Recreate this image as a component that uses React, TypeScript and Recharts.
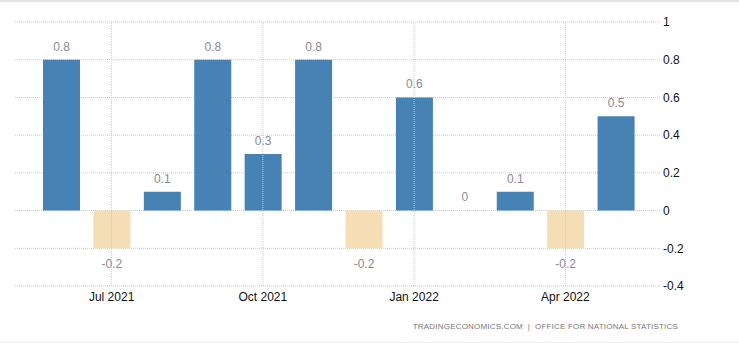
import { BarChart, Bar, XAxis, YAxis, CartesianGrid, Cell, LabelList, ReferenceLine } from "recharts";

const months = [
  "Jun 2021", "Jul 2021", "Aug 2021", "Sep 2021", "Oct 2021", "Nov 2021",
  "Dec 2021", "Jan 2022", "Feb 2022", "Mar 2022", "Apr 2022", "May 2022",
];
const values = [0.8, -0.2, 0.1, 0.8, 0.3, 0.8, -0.2, 0.6, 0, 0.1, -0.2, 0.5];
const xTicks = ["Jul 2021", "Oct 2021", "Jan 2022", "Apr 2022"];
const yTicks = [-0.4, -0.2, 0, 0.2, 0.4, 0.6, 0.8, 1];

const data = months.map((m, i) => ({ month: m, value: values[i] }));

const FONT = "'Liberation Sans', Arial, sans-serif";

function ValueLabel(props: any) {
  const { x, y, width, height, value } = props;
  const top = Math.min(y, y + height);
  const bottom = Math.max(y, y + height);
  const cy = value < 0 ? bottom + 16 : top - 13;
  return (
    <text
      x={x + width / 2}
      y={cy}
      textAnchor="middle"
      dominantBaseline="central"
      fill="#8a8a96"
      fontSize={12}
      fontFamily={FONT}
    >
      {value}
    </text>
  );
}

export default function App() {
  return (
    <div style={{ position: "absolute", left: 0, top: 0, width: 739, height: 352, background: "#fff" }}>
      <div style={{ position: "absolute", left: 0, top: 0, width: 739, height: 2, background: "#e4e4e4" }} />
      <BarChart
        width={739}
        height={352}
        data={data}
        margin={{ top: 22, right: 40, left: 15, bottom: 36 }}
      >
        <CartesianGrid stroke="#c8c8c8" strokeDasharray="1 1" vertical={false} />
        {xTicks.map((t) => (
          <ReferenceLine key={t} x={t} stroke="#c8c8c8" strokeDasharray="1 1" />
        ))}
        <XAxis
          dataKey="month"
          ticks={xTicks}
          padding={{ left: 21, right: 20 }}
          axisLine={false}
          tickLine={false}
          tickSize={0}
          tickMargin={6}
          height={30}
          tick={{ fill: "#111", fontSize: 12, fontFamily: FONT }}
        />
        <YAxis
          orientation="right"
          domain={[-0.4, 1]}
          ticks={yTicks}
          axisLine={false}
          tickLine={false}
          tickSize={0}
          tickMargin={2}
          width={38}
          tick={{ fill: "#111", fontSize: 12, fontFamily: FONT, textAnchor: "start" }}
        />
        <Bar
          dataKey="value"
          barSize={37}
          minPointSize={(v: number) => (v === 0 ? 1 : 0)}
          isAnimationActive={false}
        >
          {data.map((d) => (
            <Cell
              key={d.month}
              fill={d.value < 0 ? "#f5deb3" : d.value === 0 ? "transparent" : "#4682b4"}
            />
          ))}
          <LabelList dataKey="value" content={<ValueLabel />} />
        </Bar>
      </BarChart>
      <div
        style={{
          position: "absolute",
          right: 61,
          top: 322,
          fontSize: 8,
          fontFamily: FONT,
          color: "#777",
          letterSpacing: 0.2,
          whiteSpace: "pre",
        }}
      >
        {"TRADINGECONOMICS.COM  |  OFFICE FOR NATIONAL STATISTICS"}
      </div>
      <div style={{ position: "absolute", left: 0, top: 342, width: 739, height: 1, background: "#eeeeee" }} />
    </div>
  );
}
